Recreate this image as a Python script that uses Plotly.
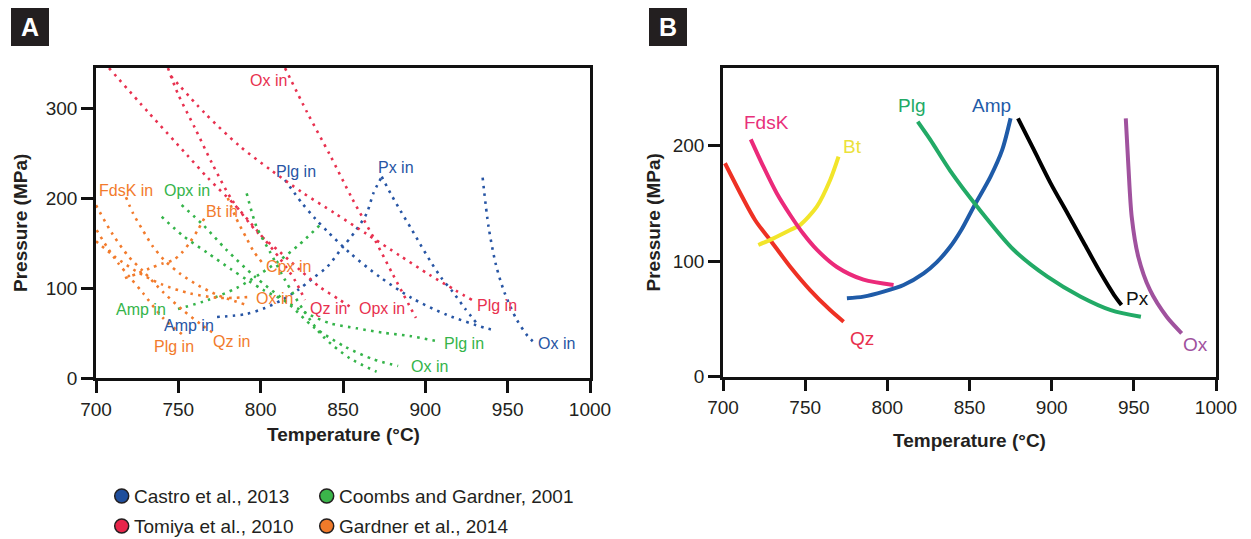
import plotly.graph_objects as go

W, H = 1251, 539

# ---------------- Panel A data (Temperature °C, Pressure MPa) ----------------
castro_plg_T = [814.8, 824.9, 833.0, 840.9, 854.2, 872.4, 892.0, 913.3, 935.8, 941.2]
castro_plg_P = [220.0, 194.8, 177.4, 162.2, 138.9, 112.2, 88.6, 70.0, 55.9, 53.3]
castro_amp_T = [773.5, 791.0, 802.6, 812.9, 822.6, 831.8, 840.3, 849.2, 857.3, 864.4, 868.4, 873.5]
castro_amp_P = [67.8, 71.0, 77.8, 86.7, 97.8, 111.0, 123.3, 144.0, 162.6, 183.0, 205.0, 223.7]
castro_px_T = [873.5, 879.1, 885.0, 891.1, 896.9, 903.0, 909.9, 916.6, 924.0, 932.0]
castro_px_P = [223.7, 204.4, 185.6, 167.0, 148.6, 130.0, 110.8, 95.9, 77.4, 59.0]
castro_ox_T = [934.8, 938.4, 942.9, 948.1, 955.4, 962.1, 966.5]
castro_ox_P = [222.6, 168.0, 125.6, 94.8, 65.2, 46.7, 38.6]

tomiya_qz_T = [707.9, 731.6, 755.3, 768.0, 784.4, 799.6, 812.0, 821.0, 826.9]
tomiya_qz_P = [344.4, 295.6, 247.8, 222.2, 192.0, 160.0, 132.0, 108.0, 86.7]
tomiya_opx_T = [743.7, 749.8, 760.1, 770.4, 782.6, 798.4, 811.7, 823.9, 836.0, 848.1, 855.4]
tomiya_opx_P = [344.4, 315.6, 277.8, 238.9, 197.8, 161.1, 140.0, 120.0, 101.1, 86.7, 77.8]
tomiya_plg_T = [745.5, 765.8, 787.0, 805.6, 824.9, 845.1, 864.4, 884.6, 902.8, 918.0, 928.3]
tomiya_plg_P = [335.6, 294.8, 258.1, 231.9, 206.7, 183.0, 160.0, 135.9, 114.4, 97.8, 86.7]
tomiya_ox_T = [814.8, 828.1, 842.1, 855.4, 869.4, 880.0, 894.3]
tomiya_ox_P = [344.4, 295.6, 247.8, 200.0, 153.3, 116.0, 66.7]

coombs_plg_T = [739.9, 753.0, 767.6, 782.0, 791.9, 801.6, 813.7, 827.9, 842.1, 858.3, 874.4, 890.6, 908.9]
coombs_plg_P = [179.2, 157.8, 139.2, 120.8, 108.9, 97.8, 86.7, 71.9, 60.8, 55.2, 50.3, 46.7, 40.3]
coombs_ox1_T = [752.0, 765.1, 778.9, 796.5, 817.8, 831.9, 851.2, 868.4, 883.5]
coombs_ox1_P = [192.2, 170.0, 143.0, 112.6, 81.1, 57.0, 34.8, 20.8, 13.3]
coombs_ox2_T = [791.5, 797.5, 805.6, 814.8, 825.9, 838.0, 854.2, 870.4]
coombs_ox2_P = [205.2, 168.1, 140.3, 108.9, 75.6, 45.9, 21.9, 7.0]
coombs_amp_T = [749.8, 768.0, 785.4, 799.6, 811.7, 823.3, 836.0]
coombs_amp_P = [76.7, 86.7, 100.0, 115.6, 131.0, 148.0, 170.0]

gardner_fdsk_T = [718.2, 722.5, 728.5, 734.6, 742.0, 751.0, 762.0, 774.0, 790.0]
gardner_fdsk_P = [201.0, 183.0, 164.0, 146.0, 130.0, 116.0, 103.0, 92.0, 82.0]
gardner_qz_T = [700.0, 710.0, 719.5, 728.7, 740.9, 753.0, 765.2, 772.0]
gardner_qz_P = [192.0, 160.0, 135.7, 118.4, 95.2, 75.0, 57.7, 49.0]
gardner_plg_T = [700.4, 706.7, 713.4, 721.0, 728.5, 740.7, 752.8]
gardner_plg_P = [164.4, 145.6, 127.8, 111.0, 94.4, 66.7, 47.8]
gardner_ox_T = [700.0, 712.0, 725.0, 740.0, 757.0, 775.0, 793.0]
gardner_ox_P = [152.0, 134.0, 118.0, 104.0, 94.0, 89.0, 90.0]
gardner_cpx_T = [780.0, 785.0, 791.5, 796.0, 801.0]
gardner_cpx_P = [200.0, 178.0, 155.0, 140.0, 128.0]
gardner_bt_T = [717.6, 725.0, 732.8, 740.0, 746.8, 752.0, 757.1, 762.0, 766.2]
gardner_bt_P = [111.0, 116.0, 122.0, 127.0, 131.0, 139.0, 151.0, 165.0, 179.0]

# ---------------- Panel B data ----------------
b_qz_T = [701.2, 719.5, 728.7, 740.9, 753.0, 765.2, 773.4]
b_qz_P = [184.8, 135.7, 118.4, 95.2, 75.0, 57.7, 47.6]
b_fdsk_T = [716.9, 724.6, 732.7, 740.9, 749.0, 757.1, 769.3, 785.5, 803.8]
b_fdsk_P = [205.5, 181.8, 158.8, 140.0, 123.5, 110.0, 95.0, 84.0, 79.4]
b_bt_T = [721.5, 730.7, 740.9, 747.0, 757.1, 765.2, 770.3]
b_bt_P = [114.0, 119.8, 127.0, 131.5, 147.2, 170.3, 190.5]
b_amp_T = [775.4, 785.5, 797.7, 809.9, 822.1, 830.0, 838.0, 845.0, 852.6, 862.8, 869.9, 875.0]
b_amp_P = [67.9, 69.3, 73.6, 79.4, 89.5, 99.0, 112.0, 127.0, 147.2, 173.2, 196.3, 223.7]
b_px_T = [879.5, 889.2, 899.4, 909.6, 919.7, 929.9, 938.0, 942.5]
b_px_P = [223.7, 196.3, 167.4, 141.5, 115.5, 89.5, 70.7, 62.1]
b_plg_T = [818.5, 826.2, 838.4, 854.7, 877.0, 897.4, 917.7, 936.0, 954.3]
b_plg_P = [220.8, 205.0, 178.0, 147.2, 109.7, 86.6, 69.3, 57.7, 51.9]
b_ox_T = [945.1, 946.7, 948.7, 952.7, 959.8, 970.0, 979.1]
b_ox_P = [223.7, 181.8, 138.5, 103.9, 75.1, 51.9, 37.6]

legend_labels = ["Castro et al., 2013", "Coombs and Gardner, 2001",
                 "Tomiya et al., 2010", "Gardner et al., 2014"]

BLUE = "#2755a4"
RED = "#e8314f"
GREEN = "#35b44a"
ORANGE = "#f27b2c"
TXT = "#231f20"
FONT = "Liberation Sans, Arial, sans-serif"

fig = go.Figure()

def dotted(T, P, color):
    fig.add_trace(go.Scatter(x=T, y=P, mode="lines", xaxis="x", yaxis="y",
                             line=dict(color=color, width=2.6, dash="2.6px,5.2px", shape="spline", smoothing=0.8),
                             hoverinfo="skip", showlegend=False))

for T, P in [(castro_plg_T, castro_plg_P), (castro_amp_T, castro_amp_P),
             (castro_px_T, castro_px_P), (castro_ox_T, castro_ox_P)]:
    dotted(T, P, BLUE)
for T, P in [(tomiya_qz_T, tomiya_qz_P), (tomiya_opx_T, tomiya_opx_P),
             (tomiya_plg_T, tomiya_plg_P), (tomiya_ox_T, tomiya_ox_P)]:
    dotted(T, P, RED)
for T, P in [(coombs_plg_T, coombs_plg_P), (coombs_ox1_T, coombs_ox1_P),
             (coombs_ox2_T, coombs_ox2_P), (coombs_amp_T, coombs_amp_P)]:
    dotted(T, P, GREEN)
for T, P in [(gardner_fdsk_T, gardner_fdsk_P), (gardner_qz_T, gardner_qz_P),
             (gardner_plg_T, gardner_plg_P), (gardner_ox_T, gardner_ox_P),
             (gardner_cpx_T, gardner_cpx_P), (gardner_bt_T, gardner_bt_P)]:
    dotted(T, P, ORANGE)

def solid(T, P, color):
    fig.add_trace(go.Scatter(x=T, y=P, mode="lines", xaxis="x2", yaxis="y2",
                             line=dict(color=color, width=4, shape="spline", smoothing=0.8),
                             hoverinfo="skip", showlegend=False))

solid(b_qz_T, b_qz_P, "#ee3124")
solid(b_bt_T, b_bt_P, "#f2e52a")
solid(b_fdsk_T, b_fdsk_P, "#eb2a7a")
solid(b_amp_T, b_amp_P, "#1f5ba8")
solid(b_plg_T, b_plg_P, "#22aa66")
solid(b_px_T, b_px_P, "#000000")
solid(b_ox_T, b_ox_P, "#a0529e")

def px2x(px):
    return px / W

def px2y(py):
    return 1 - py / H

axis_common = dict(showgrid=False, zeroline=False, showline=True, linecolor="#111", linewidth=2.5,
                   mirror=True, ticks="outside", ticklen=12, tickwidth=3, tickcolor="#111",
                   automargin=False,
                   tickfont=dict(family=FONT, size=19, color=TXT), fixedrange=True)

fig.update_layout(
    template="none",
    width=W, height=H, autosize=False,
    margin=dict(l=0, r=0, t=0, b=0, pad=0),
    paper_bgcolor="white", plot_bgcolor="white",
    showlegend=False,
    xaxis=dict(domain=[px2x(96), px2x(590)], range=[700, 1000], tickvals=[700, 750, 800, 850, 900, 950, 1000],
               anchor="y", **axis_common),
    yaxis=dict(domain=[px2y(378), px2y(68)], range=[0, 344.5], tickvals=[0, 100, 200, 300],
               anchor="x", **axis_common),
    xaxis2=dict(domain=[px2x(723), px2x(1216)], range=[700, 1000], tickvals=[700, 750, 800, 850, 900, 950, 1000],
                anchor="y2", **axis_common),
    yaxis2=dict(domain=[px2y(376.7), px2y(68.3)], range=[0, 267], tickvals=[0, 100, 200],
                anchor="x2", **axis_common),
)

ann = []
# Panel A labels
a_labels = [
    ("Ox in", 805.0, 331.0, RED), ("Plg in", 821.4, 229.4, BLUE), ("Px in", 882.1, 234.4, BLUE),
    ("FdsK in", 718.5, 208.9, ORANGE), ("Opx in", 755.3, 208.9, GREEN), ("Bt in", 776.3, 184.8, ORANGE),
    ("Cpx in", 816.8, 123.7, ORANGE), ("Ox in", 808.7, 88.6, ORANGE), ("Qz in", 841.0, 77.4, RED),
    ("Opx in", 873.5, 77.4, RED), ("Plg in", 943.3, 80.2, RED), ("Amp in", 727.3, 75.6, GREEN),
    ("Amp in", 756.5, 58.9, BLUE), ("Plg in", 747.4, 34.8, ORANGE), ("Qz in", 782.0, 40.3, ORANGE),
    ("Plg in", 923.4, 37.8, GREEN), ("Ox in", 902.8, 12.6, GREEN), ("Ox in", 979.7, 38.6, BLUE),
]
for t, x, y, c in a_labels:
    ann.append(dict(text=t, x=x, y=y, xref="x", yref="y", showarrow=False, xanchor="center", yanchor="middle",
                    font=dict(family=FONT, size=16, color=c)))

b_labels = [
    ("FdsK", 726.2, 220.5, "#e8307a"), ("Bt", 778.5, 199.7, "#ebe13a"), ("Plg", 814.4, 234.8, "#22aa66"),
    ("Amp", 863.1, 235.2, "#1f5ba8"), ("Px", 952.5, 67.3, "#111111"), ("Ox", 987.8, 27.5, "#a0529e"),
    ("Qz", 784.6, 33.1, "#e8304e"),
]
for t, x, y, c in b_labels:
    ann.append(dict(text=t, x=x, y=y, xref="x2", yref="y2", showarrow=False, xanchor="center", yanchor="middle",
                    font=dict(family=FONT, size=19, color=c)))

# axis titles
for cx, cy in [(343, 434), (969.5, 440)]:
    ann.append(dict(text="<b>Temperature (°C)</b>", x=px2x(cx), y=px2y(cy), xref="paper", yref="paper",
                    showarrow=False, xanchor="center", yanchor="middle",
                    font=dict(family=FONT, size=19, color=TXT)))
for cx, cy in [(20, 223), (653, 222.5)]:
    ann.append(dict(text="<b>Pressure (MPa)</b>", x=px2x(cx), y=px2y(cy), xref="paper", yref="paper",
                    showarrow=False, xanchor="center", yanchor="middle", textangle=-90,
                    font=dict(family=FONT, size=19, color=TXT)))

shapes = []
# panel letters
for letter, x0 in [("A", 11), ("B", 649)]:
    shapes.append(dict(type="rect", xref="paper", yref="paper", x0=px2x(x0), x1=px2x(x0 + 38),
                       y0=px2y(46), y1=px2y(8), fillcolor="#231f20", line=dict(width=0)))
    ann.append(dict(text="<b>%s</b>" % letter, x=px2x(x0 + 19), y=px2y(27.5), xref="paper", yref="paper",
                    showarrow=False, xanchor="center", yanchor="middle",
                    font=dict(family=FONT, size=25, color="white")))

# legend
leg_pos = [(121.7, 496), (326.7, 496), (121.7, 526), (326.7, 526)]
leg_cols = ["#1f4e9c", "#3bb54a", "#e8254a", "#f07a2a"]
for (cx, cy), col, lab in zip(leg_pos, leg_cols, legend_labels):
    r = 7
    shapes.append(dict(type="circle", xref="paper", yref="paper", x0=px2x(cx - r), x1=px2x(cx + r),
                       y0=px2y(cy + r), y1=px2y(cy - r), fillcolor=col, line=dict(color="#231f20", width=1.5)))
    ann.append(dict(text=lab, x=px2x(cx + 10), y=px2y(cy), xref="paper", yref="paper", showarrow=False,
                    xanchor="left", yanchor="middle", font=dict(family=FONT, size=19, color=TXT)))

fig.update_layout(annotations=ann, shapes=shapes)
fig.write_html("out.html")
